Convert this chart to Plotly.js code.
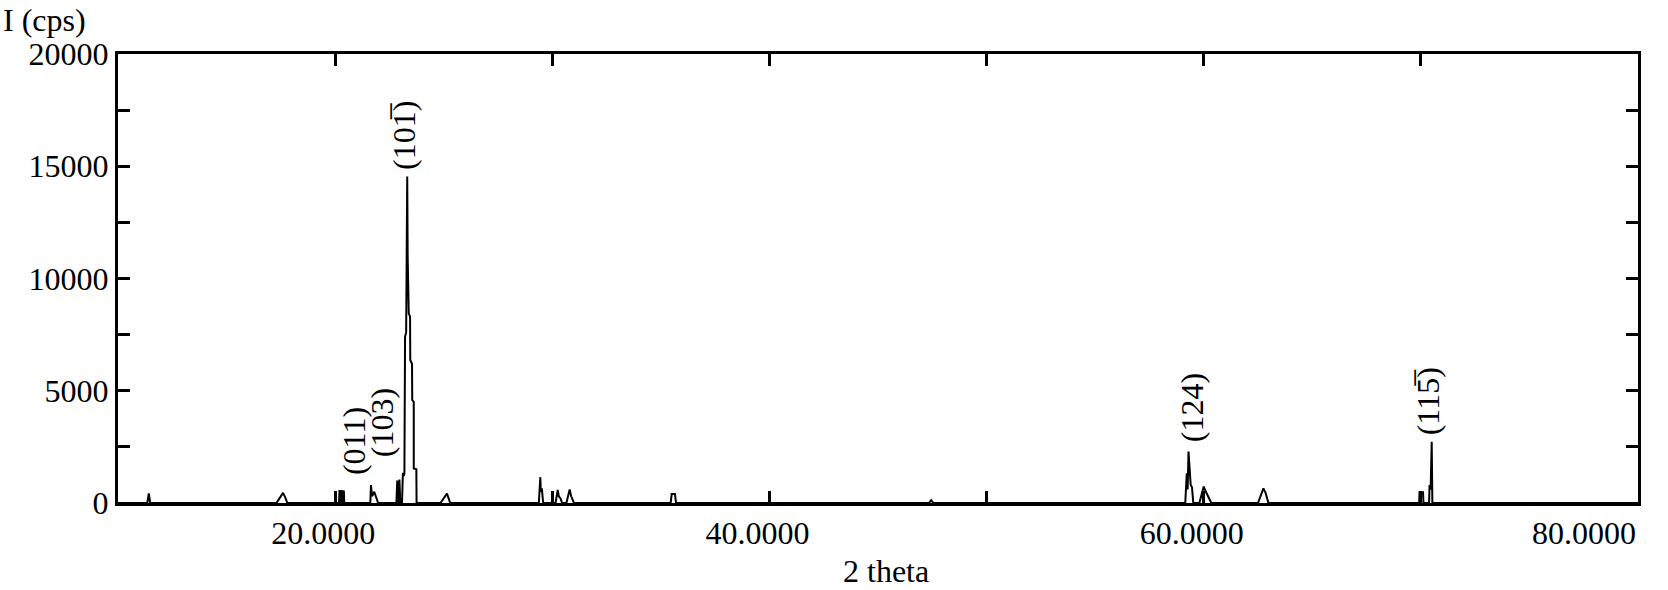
<!DOCTYPE html>
<html>
<head>
<meta charset="utf-8">
<script src="https://cdn.plot.ly/plotly-3.0.1.min.js"></script>
<style>
  html, body { margin: 0; padding: 0; background: #fff; }
  #chart { width: 1668px; height: 590px; }
</style>
</head>
<body>
<div id="chart"></div>
<script>
// XRD pattern (2 theta in degrees, intensity in cps)
const twoTheta = [
  10, 11.35, 11.42, 11.48,
  17.3, 17.5, 17.6, 17.7, 17.8,
  20.18, 20.2, 20.25, 20.3, 20.35, 20.4, 20.42,
  21.62, 21.65, 21.7, 21.8, 21.9, 21.98,
  22.82, 22.86, 22.92, 22.96, 23.0, 23.08, 23.12,
  23.16, 23.19, 23.22, 23.27, 23.3, 23.32, 23.34, 23.39, 23.45, 23.46, 23.54, 23.55, 23.62, 23.62, 23.74, 23.75,
  24.85, 25.0, 25.15, 25.3,
  29.38, 29.42, 29.45, 29.47, 29.52, 29.58,
  30.15, 30.25, 30.3, 30.38, 30.45,
  30.65, 30.8, 30.87, 31.0,
  35.45, 35.5, 35.65, 35.7,
  47.35, 47.45, 47.55,
  59.15, 59.22, 59.26, 59.3, 59.35, 59.4, 59.46, 59.52,
  59.8, 59.9, 60.0, 60.1, 60.2, 60.35,
  62.5, 62.65, 62.75, 62.85, 62.98,
  69.92, 69.94, 70.1, 70.12, 70.38, 70.4, 70.45, 70.5, 70.53,
  80
];
const intensity = [
  0, 0, 430, 0,
  0, 300, 450, 250, 0,
  0, 580, 0, 580, 0, 560, 0,
  0, 800, 300, 500, 200, 0,
  0, 1000, 0, 1050, 0, 0, 1350,
  1200, 1330, 7400, 7600, 14540, 14540, 10970, 8450, 8300, 6370, 6200, 4590, 4500, 1540, 1500, 0,
  0, 200, 420, 0,
  0, 650, 1150, 500, 650, 0,
  0, 580, 300, 200, 0,
  0, 600, 300, 0,
  0, 400, 400, 0,
  0, 130, 0,
  0, 1320, 600, 2290, 1600, 800, 700, 0,
  0, 400, 730, 500, 300, 0,
  0, 400, 650, 450, 0,
  0, 480, 480, 0, 0, 800, 600, 2730, 0,
  0
];

// reflection labels and where they sit
const peakLabels = ["(011)", "(103)", "(101\u0305)", "(124)", "(115\u0305)"];
const labelX = [20.87, 22.16, 23.17, 59.47, 70.34];
const labelY = [2760, 3560, 16390, 4230, 4540];

const xTicks = [10, 20, 30, 40, 50, 60, 70, 80];
const xTickText = ["", "20.0000", "", "40.0000", "", "60.0000", "", ""];
const yTicks = [0, 2500, 5000, 7500, 10000, 12500, 15000, 17500, 20000];
const yTickText = ["0", "", "5000", "", "10000", "", "15000", "", "20000"];

const font = "Liberation Serif, Times New Roman, serif";
const fontSize = 32;

const annotations = peakLabels.map((t, i) => ({
  x: labelX[i],
  y: labelY[i],
  text: t,
  textangle: -90,
  showarrow: false,
  xanchor: "center",
  yanchor: "middle",
  font: { family: font, size: fontSize, color: "#000" }
}));

// last x tick label sits flush with the right edge
annotations.push({
  x: 80, xref: "x",
  y: -0.066, yref: "paper",
  text: "80.0000",
  showarrow: false,
  xanchor: "right",
  yanchor: "middle",
  font: { family: font, size: fontSize, color: "#000" }
});

// axis titles
annotations.push({
  x: -0.077, xref: "paper",
  y: 1.076, yref: "paper",
  text: "I (cps)",
  showarrow: false,
  xanchor: "left",
  yanchor: "middle",
  font: { family: font, size: fontSize, color: "#000" }
});
annotations.push({
  x: 0.505, xref: "paper",
  y: -0.152, yref: "paper",
  text: "2 theta",
  showarrow: false,
  xanchor: "center",
  yanchor: "middle",
  font: { family: font, size: fontSize, color: "#000" }
});

const axisStyle = {
  ticks: "inside",
  ticklen: 12,
  tickwidth: 2.5,
  tickcolor: "#000",
  showline: true,
  linewidth: 3,
  linecolor: "#000",
  mirror: "ticks",
  showgrid: false,
  zeroline: false,
  tickmode: "array"
};

Plotly.newPlot("chart", [
  {
    x: twoTheta,
    y: intensity,
    mode: "lines",
    line: { color: "#000", width: 2 },
    hoverinfo: "skip"
  }
], {
  width: 1668,
  height: 590,
  margin: { l: 118, r: 30, t: 54, b: 87 },
  paper_bgcolor: "#fff",
  plot_bgcolor: "#fff",
  showlegend: false,
  font: { family: font, size: fontSize, color: "#000" },
  xaxis: Object.assign({}, axisStyle, {
    range: [10, 80],
    tickvals: xTicks,
    ticktext: xTickText,
    ticklabelshift: -12
  }),
  yaxis: Object.assign({}, axisStyle, {
    range: [0, 20000],
    tickvals: yTicks,
    ticktext: yTickText
  }),
  annotations: annotations
}, { displayModeBar: false });
</script>
</body>
</html>
